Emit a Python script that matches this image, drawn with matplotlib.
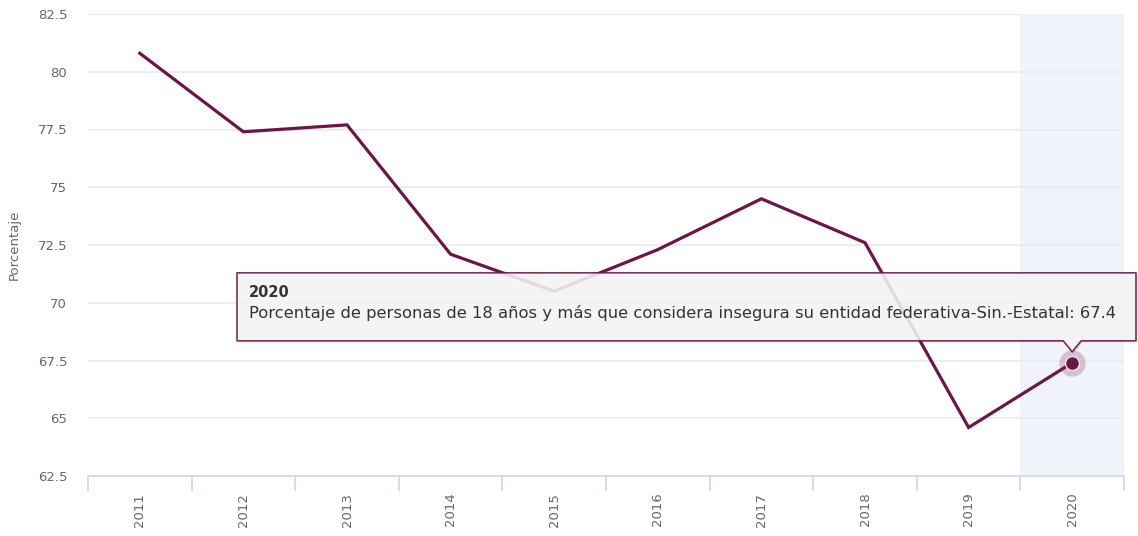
import matplotlib
matplotlib.use("Agg")
import matplotlib.pyplot as plt
from matplotlib.patches import Polygon
from matplotlib.ticker import FixedLocator

years = ["2011", "2012", "2013", "2014", "2015", "2016", "2017", "2018", "2019", "2020"]
values = [80.8, 77.4, 77.7, 72.1, 70.5, 72.3, 74.5, 72.6, 64.6, 67.4]
y_ticks = [62.5, 65, 67.5, 70, 72.5, 75, 77.5, 80, 82.5]
tooltip_title = "2020"
tooltip_text = ("Porcentaje de personas de 18 años y más que considera insegura "
                "su entidad federativa-Sin.-Estatal: 67.4")

LINE = "#6b1548"
GRID = "#ebebeb"
AXIS = "#ccd6eb"
LABEL = "#666666"

plt.rcParams["font.family"] = ["DejaVu Sans"]

W, H = 1138, 536
fig = plt.figure(figsize=(W / 100, H / 100), dpi=100)
ax = fig.add_axes([88 / W, (H - 476) / H, (1124 - 88) / W, (476 - 14) / H])

x = list(range(len(years)))
hi = len(years) - 1

# highlighted category band
ax.axvspan(hi - 0.5, hi + 0.5, color="#f0f3f9", zorder=0, lw=0)

for t in y_ticks[1:]:
    ax.axhline(t, color=GRID, lw=1.2, zorder=1)

ax.plot(x, values, color=LINE, lw=2.3, zorder=3, solid_joinstyle="miter")
ax.plot(x[hi], values[hi], "o", ms=19, color=LINE, alpha=0.22, mec="none", zorder=4)
ax.plot(x[hi], values[hi], "o", ms=10, color=LINE, mec="#f3e6ee", mew=1, zorder=5)

ax.set_xlim(-0.5, len(years) - 0.5)
ax.set_ylim(y_ticks[0], y_ticks[-1])
ax.set_xticks(x)
ax.set_xticklabels(years, rotation=90, color=LABEL, fontsize=9.5)
ax.xaxis.set_minor_locator(FixedLocator([i - 0.5 for i in range(len(years) + 1)]))
ax.tick_params(axis="x", which="major", length=0, pad=12)
ax.tick_params(axis="x", which="minor", length=11, color=AXIS, width=1.2)
ax.set_yticks(y_ticks)
ax.set_yticklabels([f"{v:g}" for v in y_ticks], color=LABEL, fontsize=9.5)
ax.tick_params(axis="y", length=0, pad=15)

for s in ["top", "right", "left"]:
    ax.spines[s].set_visible(False)
ax.spines["bottom"].set_color(AXIS)
ax.spines["bottom"].set_linewidth(1.2)

fig.text(14 / W, 1 - 245 / H, "Porcentaje", rotation=90, ha="center", va="center",
         color=LABEL, fontsize=9.5)

# tooltip anchored to the highlighted point (display pixels)
fig.canvas.draw()
px, py = ax.transData.transform((x[hi], values[hi]))
left, right = 237, 1136
bottom = py + 22
top = bottom + 68
pts = [(left, bottom), (px - 9, bottom), (px, bottom - 11), (px + 9, bottom),
       (right, bottom), (right, top), (left, top)]
shadow = Polygon([(a + 1.5, b - 1.5) for a, b in pts], closed=True, transform=None,
                 facecolor="black", alpha=0.12, edgecolor="none", zorder=9)
box = Polygon(pts, closed=True, transform=None, facecolor="#f7f7f7", alpha=0.88,
              edgecolor=LINE, lw=1.2, zorder=10, joinstyle="round")
fig.add_artist(shadow)
fig.add_artist(box)
fig.text(249 / W, (top - 24) / H, tooltip_title, fontsize=10.5, fontweight="bold",
         color="#333333", va="baseline", zorder=11)
body = fig.text(249 / W, (top - 45) / H, tooltip_text, fontsize=10.5, color="#333333",
                va="baseline", zorder=11)
# fit body text to the width seen in the reference (~873 px)
fig.canvas.draw()
w = body.get_window_extent().width
body.set_fontsize(10.5 * 873 / w)

fig.savefig("out.png", dpi=100)
